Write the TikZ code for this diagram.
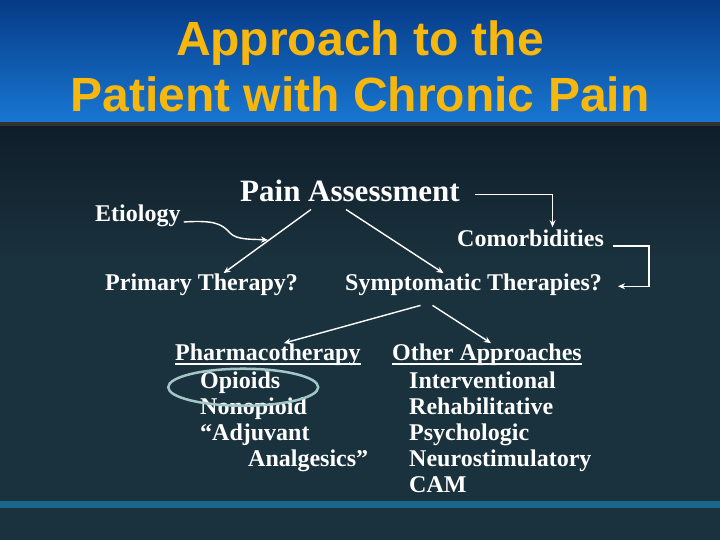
\documentclass[tikz,border=0pt]{standalone}
\usepackage{fontspec}
\setmainfont{Liberation Serif}
\newfontfamily\headfont{Liberation Sans}
\usepackage{tikz}
\usetikzlibrary{shapes,arrows.meta,backgrounds,positioning,calc}

\definecolor{slidebg}{HTML}{1A323D}
\definecolor{slidetop}{HTML}{0F1D2A}
\definecolor{bannertop}{HTML}{063A86}
\definecolor{bannerbot}{HTML}{1877D2}
\definecolor{headgold}{HTML}{F7B70D}
\definecolor{ringcol}{HTML}{A3C6C8}
\definecolor{stripe}{HTML}{1A78A8}

\tikzset{
  txt/.style={anchor=base west,inner sep=0pt,text=white,font=\bfseries\fontsize{24}{26}\selectfont},
  big/.style={txt,font=\bfseries\fontsize{31}{34}\selectfont},
  head/.style={text=headgold,font=\headfont\bfseries\fontsize{48}{56}\selectfont,inner sep=0pt,anchor=base},
  arr/.style={draw=white,line width=1.4pt,-{Stealth[length=7pt,width=6pt]}},
  uline/.style={draw=white,line width=1.4pt}
}

\begin{document}
\begin{tikzpicture}[x=1pt,y=-1pt]
    % background
    \useasboundingbox (0,0) rectangle (720,540);
    \shade[top color=slidetop,bottom color=slidebg] (0,124) rectangle (720,260);
    \fill[slidebg] (0,259.5) rectangle (720,540);
    \fill[stripe,opacity=0.75] (0,501) rectangle (720,508);
    \shade[top color=bannertop,bottom color=bannerbot] (0,0) rectangle (720,122);
    \fill[black!80] (0,122) rectangle (720,126);

    % title
    \node[head] (title1) at (360,56) {Approach to the};
    \node[head] (title2) at (360,112) {Patient with Chronic Pain};

    % top level
    \node[big] (assess) at (240,202) {Pain Assessment};
    \node[txt] (etio) at (95,222) {Etiology};
    \node[txt] (comor) at (457,246) {Comorbidities};
    \node[txt] (prim) at (105,290) {Primary Therapy?};
    \node[txt] (sympt) at (345,290) {Symptomatic Therapies?};

    % therapy lists
    \node[txt] (pharma) at (175,360) {Pharmacotherapy};
    \node[txt] (other) at (392,360) {Other Approaches};
    \draw[uline] ([yshift=-4pt]pharma.base west) -- ([yshift=-4pt]pharma.base east);
    \draw[uline] ([yshift=-4pt]other.base west) -- ([yshift=-4pt]other.base east);

    \node[txt] (opi) at (200,388) {Opioids};
    \node[txt] (nonopi) at (200,414) {Nonopioid};
    \node[txt] (adj) at (200,440) {``Adjuvant};
    \node[txt] (analg) at (248,466) {Analgesics''};

    \foreach \name/\label [count=\i] in {interv/Interventional,rehab/Rehabilitative,%
        psych/Psychologic,neuro/Neurostimulatory,cam/CAM} {
      \node[txt] (\name) at (409,362+26*\i) {\label};
    }

    % connectors
    \draw[arr] ([xshift=-39pt,yshift=-7pt]assess.south) -- ([xshift=22pt]prim.north);
    \draw[arr] ([xshift=-4pt,yshift=-7pt]assess.south) -- ([xshift=-30pt]sympt.north);
    \draw[arr] ([xshift=15pt,yshift=-3pt]assess.east) -| ([xshift=22pt,yshift=2pt]comor.north);
    \draw[arr] ([xshift=9pt]comor.base east) -- ++(36pt,0) |- ([xshift=16pt,yshift=-2pt]sympt.east);
    \draw[arr] ([xshift=3pt]etio.base east) .. controls (215,220) and (222,224) .. (230,233)
      .. controls (237,240) and (250,239) .. (268,240);
    \draw[arr] ([xshift=-53pt,yshift=-10pt]sympt.south) -- ([xshift=16pt]pharma.north);
    \draw[arr] ([xshift=-41pt,yshift=-10pt]sympt.south) -- ([xshift=4pt]other.north);

    % ring
    \draw[ringcol,line width=2.5pt] ([xshift=3pt,yshift=-5pt]opi.center) ellipse (75 and 18.5);
\end{tikzpicture}
\end{document}
